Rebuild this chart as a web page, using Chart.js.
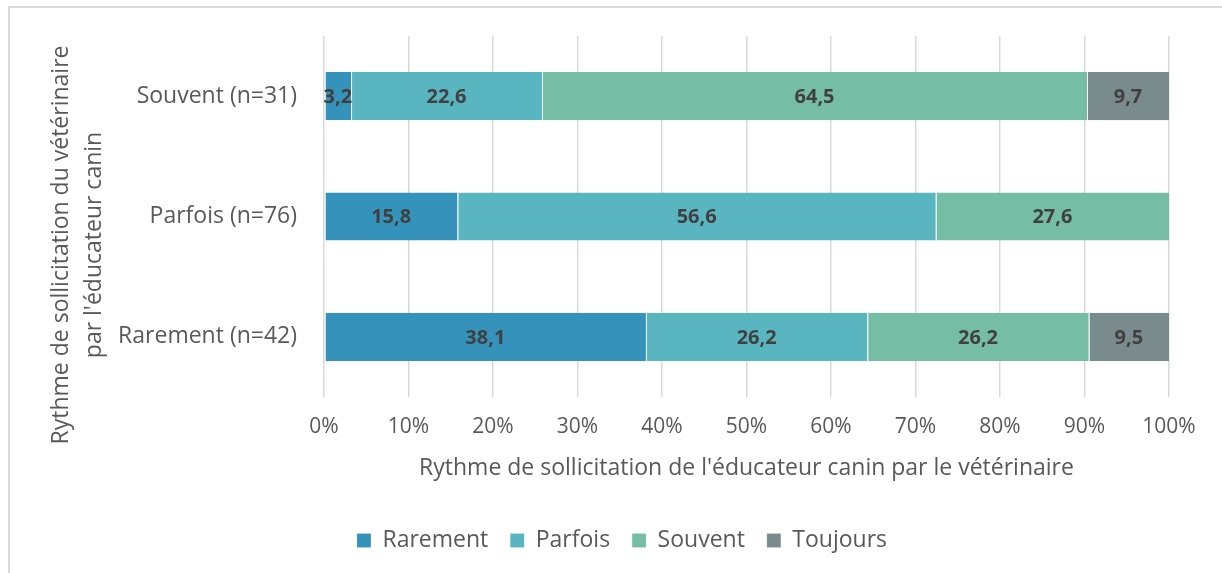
<!DOCTYPE html>
<html>
<head>
<meta charset="utf-8">
<script src="https://cdn.jsdelivr.net/npm/chart.js@4"></script>
<style>
  html, body { margin: 0; padding: 0; background: #fff; overflow: hidden; }
  #frame {
    position: absolute; left: 8px; top: 6px; width: 1400px; height: 800px;
    border: 2px solid #d9d9d9; box-sizing: border-box;
  }
  #wrap { position: absolute; left: 0; top: 0; width: 1222px; height: 573px; }
</style>
</head>
<body>
<div id="frame"></div>
<div id="wrap"><canvas id="chart" width="1222" height="573"></canvas></div>
<script>
const categories = ["Souvent (n=31)", "Parfois (n=76)", "Rarement (n=42)"];
const seriesNames = ["Rarement", "Parfois", "Souvent", "Toujours"];
const rarementValues = [3.2, 15.8, 38.1];
const parfoisValues = [22.6, 56.6, 26.2];
const souventValues = [64.5, 27.6, 26.2];
const toujoursValues = [9.7, 0, 9.5];
const xTicks = [0, 10, 20, 30, 40, 50, 60, 70, 80, 90, 100];
const colors = ["#3593bb", "#59b6c0", "#75bea5", "#798b8c"];
const yTitle = ["Rythme de sollicitation du vétérinaire", "par l'éducateur canin"];
const xTitle = "Rythme de sollicitation de l'éducateur canin par le vétérinaire";

const FONT = "'Open Sans', 'DejaVu Sans', sans-serif";
const TEXT = "#595959";

// value labels in the middle of every segment
const barLabels = {
  id: "barLabels",
  afterDatasetsDraw(chart) {
    const ctx = chart.ctx;
    ctx.save();
    ctx.font = "bold 20px " + FONT;
    ctx.fillStyle = "#404040";
    ctx.textAlign = "center";
    ctx.textBaseline = "middle";
    chart.data.datasets.forEach((ds, i) => {
      chart.getDatasetMeta(i).data.forEach((bar, j) => {
        const v = ds.data[j];
        if (!v) return;
        const x = (bar.base + bar.x) / 2;
        ctx.fillText(v.toFixed(1).replace(".", ","), x, bar.y + 1);
      });
    });
    ctx.restore();
  },
};

// rotated two-line title on the left
const leftTitle = {
  id: "leftTitle",
  afterDraw(chart) {
    const ctx = chart.ctx;
    ctx.save();
    ctx.font = "23px " + FONT;
    ctx.fillStyle = TEXT;
    ctx.textAlign = "center";
    ctx.textBaseline = "middle";
    ctx.translate(77, 245);
    ctx.rotate(-Math.PI / 2);
    ctx.fillText(yTitle[0], 0, -16);
    ctx.fillText(yTitle[1], 0, 17);
    ctx.restore();
  },
};

const allValues = [rarementValues, parfoisValues, souventValues, toujoursValues];

new Chart(document.getElementById("chart").getContext("2d"), {
  type: "bar",
  data: {
    labels: categories,
    datasets: seriesNames.map((name, i) => ({
      label: name,
      data: allValues[i],
      backgroundColor: colors[i],
      borderColor: "rgba(255,255,255,0.6)",
      borderWidth: { left: 1, right: 0, top: 0, bottom: 0 },
      borderSkipped: false,
      barPercentage: 0.4,
      categoryPercentage: 1,
    })),
  },
  options: {
    indexAxis: "y",
    responsive: false,
    animation: false,
    layout: { padding: { top: 36, left: 75, right: 53, bottom: 11 } },
    scales: {
      x: {
        stacked: true,
        min: 0,
        max: 100,
        afterBuildTicks: (scale) => {
          scale.ticks = xTicks.map((v) => ({ value: v }));
        },
        afterFit: (scale) => {
          scale.height = 110;
        },
        grid: { color: "#d9d9d9", lineWidth: 1.5, drawTicks: false },
        border: { display: false },
        ticks: {
          padding: 17,
          color: TEXT,
          font: { family: FONT, size: 21 },
          maxRotation: 0,
          callback: (v) => v + "%",
        },
        title: {
          display: true,
          text: xTitle,
          color: TEXT,
          font: { family: FONT, size: 23 },
          padding: { top: 0, bottom: 25 },
        },
      },
      y: {
        stacked: true,
        afterFit: (scale) => {
          scale.width = 249;
          scale.paddingTop = 0;
          scale.paddingBottom = 0;
        },
        grid: { display: false, drawTicks: false },
        border: { display: false },
        ticks: {
          padding: 27,
          color: TEXT,
          font: { family: FONT, size: 23 },
        },
      },
    },
    plugins: {
      legend: {
        position: "bottom",
        labels: {
          boxWidth: 14,
          boxHeight: 14,
          padding: 22,
          color: TEXT,
          font: { family: FONT, size: 23 },
        },
      },
      tooltip: { enabled: false },
    },
  },
  plugins: [barLabels, leftTitle],
});
</script>
</body>
</html>
